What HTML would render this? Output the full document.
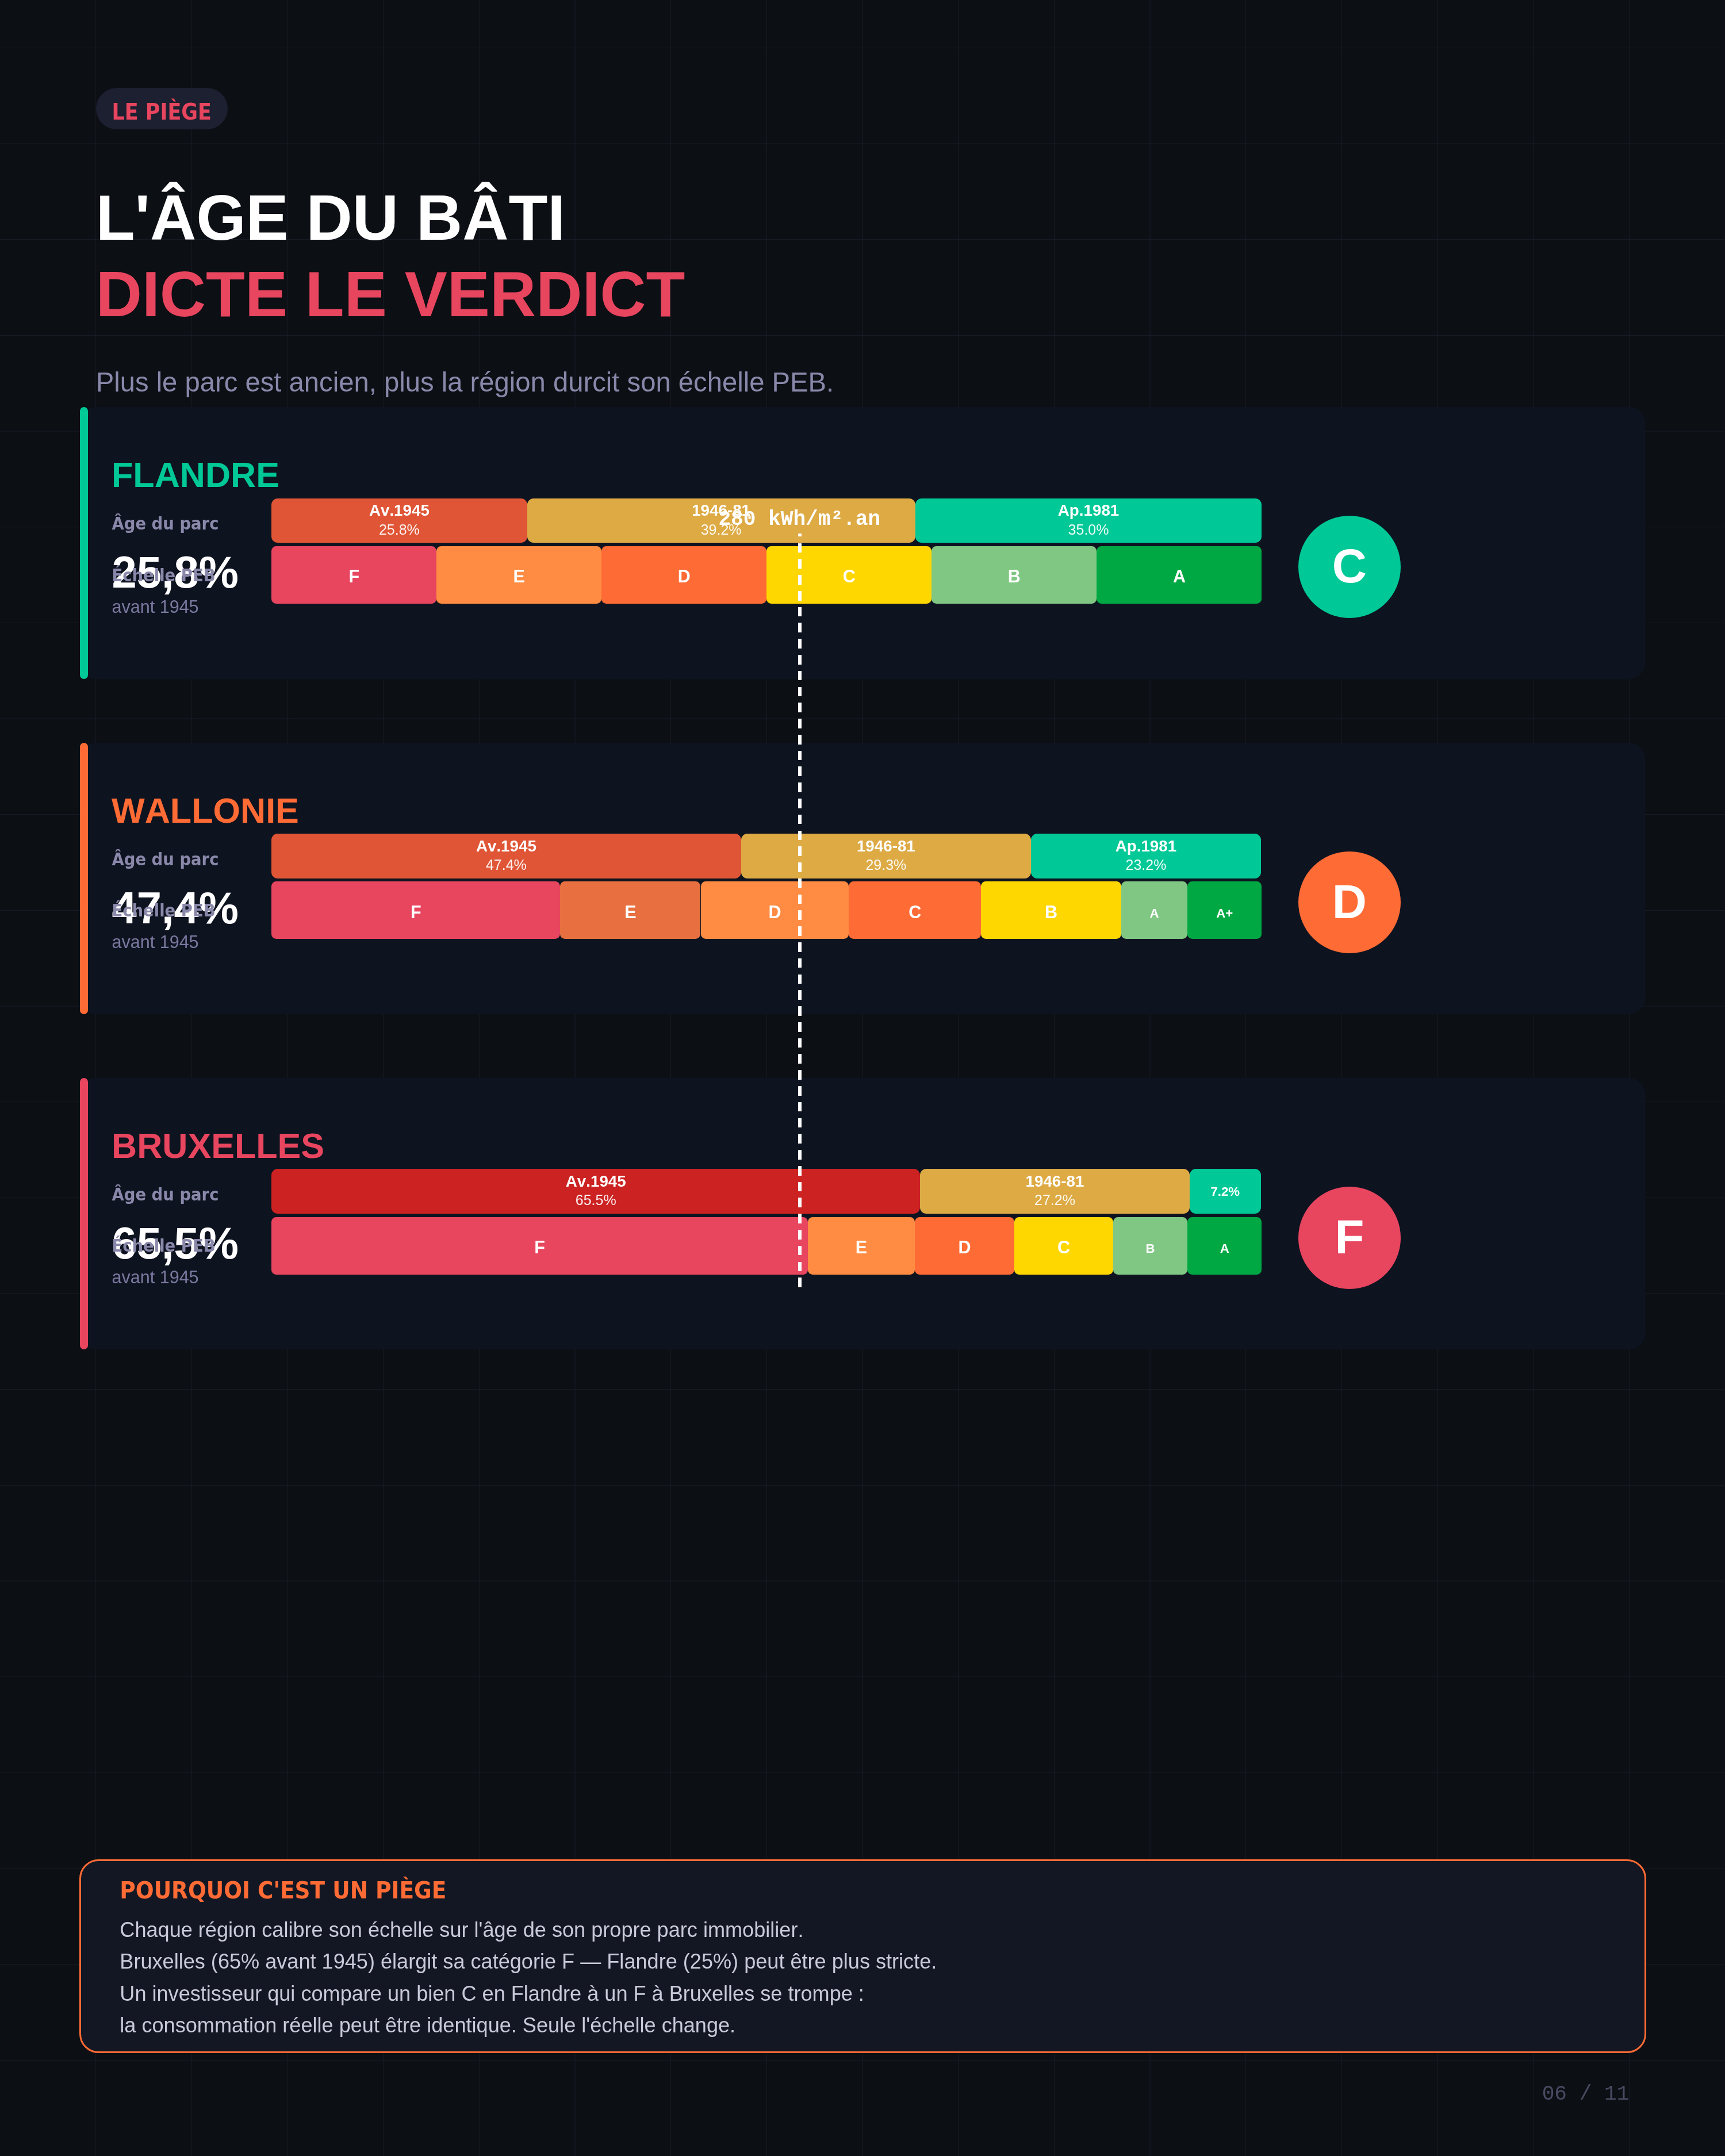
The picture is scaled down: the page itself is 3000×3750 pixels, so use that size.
<!DOCTYPE html>
<html lang="fr"><head><meta charset="utf-8"><title>L'âge du bâti dicte le verdict</title>
<style>
html,body{margin:0;padding:0;}
body{width:3000px;height:3750px;overflow:hidden;background:#0c0f14;position:relative;}
#p{position:absolute;left:0;top:0;width:1080px;height:1350px;zoom:2.777778;will-change:transform;}
.t{position:absolute;white-space:nowrap;font-kerning:none;}
.r{position:absolute;}
</style></head><body>
<svg id="g" width="3000" height="3750" viewBox="0 0 3000 3750" style="position:absolute;left:0;top:0" stroke="#191d28" stroke-width="1"><line x1="166.67" y1="0" x2="166.67" y2="3750"/><line x1="333.33" y1="0" x2="333.33" y2="3750"/><line x1="500.00" y1="0" x2="500.00" y2="3750"/><line x1="666.67" y1="0" x2="666.67" y2="3750"/><line x1="833.33" y1="0" x2="833.33" y2="3750"/><line x1="1000.00" y1="0" x2="1000.00" y2="3750"/><line x1="1166.67" y1="0" x2="1166.67" y2="3750"/><line x1="1333.33" y1="0" x2="1333.33" y2="3750"/><line x1="1500.00" y1="0" x2="1500.00" y2="3750"/><line x1="1666.67" y1="0" x2="1666.67" y2="3750"/><line x1="1833.33" y1="0" x2="1833.33" y2="3750"/><line x1="2000.00" y1="0" x2="2000.00" y2="3750"/><line x1="2166.67" y1="0" x2="2166.67" y2="3750"/><line x1="2333.33" y1="0" x2="2333.33" y2="3750"/><line x1="2500.00" y1="0" x2="2500.00" y2="3750"/><line x1="2666.67" y1="0" x2="2666.67" y2="3750"/><line x1="2833.33" y1="0" x2="2833.33" y2="3750"/><line x1="0" y1="83.33" x2="3000" y2="83.33"/><line x1="0" y1="250.00" x2="3000" y2="250.00"/><line x1="0" y1="416.67" x2="3000" y2="416.67"/><line x1="0" y1="583.33" x2="3000" y2="583.33"/><line x1="0" y1="750.00" x2="3000" y2="750.00"/><line x1="0" y1="916.67" x2="3000" y2="916.67"/><line x1="0" y1="1083.33" x2="3000" y2="1083.33"/><line x1="0" y1="1250.00" x2="3000" y2="1250.00"/><line x1="0" y1="1416.67" x2="3000" y2="1416.67"/><line x1="0" y1="1583.33" x2="3000" y2="1583.33"/><line x1="0" y1="1750.00" x2="3000" y2="1750.00"/><line x1="0" y1="1916.67" x2="3000" y2="1916.67"/><line x1="0" y1="2083.33" x2="3000" y2="2083.33"/><line x1="0" y1="2250.00" x2="3000" y2="2250.00"/><line x1="0" y1="2416.67" x2="3000" y2="2416.67"/><line x1="0" y1="2583.33" x2="3000" y2="2583.33"/><line x1="0" y1="2750.00" x2="3000" y2="2750.00"/><line x1="0" y1="2916.67" x2="3000" y2="2916.67"/><line x1="0" y1="3083.33" x2="3000" y2="3083.33"/><line x1="0" y1="3250.00" x2="3000" y2="3250.00"/><line x1="0" y1="3416.67" x2="3000" y2="3416.67"/><line x1="0" y1="3583.33" x2="3000" y2="3583.33"/></svg>
<div id="p">
<div class="r" style="left:60.00px;top:55.00px;width:82.50px;height:26.00px;background:#1c2030;border-radius:13px;"></div>
<div class="t" style="left:70.00px;top:63.35px;font:700 14px/1 'DejaVu Sans Condensed', 'DejaVu Sans', sans-serif;font-kerning:none;font-stretch:condensed;color:#e8455f;">LE PIÈGE</div>
<div class="t" style="left:60.00px;top:116.13px;font:700 40px/1 'Liberation Sans', Arial, sans-serif;font-kerning:none;color:#ffffff;">L'ÂGE DU BÂTI</div>
<div class="t" style="left:60.00px;top:164.13px;font:700 40px/1 'Liberation Sans', Arial, sans-serif;font-kerning:none;color:#e8455f;">DICTE LE VERDICT</div>
<div class="t" style="left:60.00px;top:230.76px;font:400 17px/1 'Liberation Sans', Arial, sans-serif;font-kerning:none;color:#8a88aa;">Plus le parc est ancien, plus la région durcit son échelle PEB.</div>
<div class="r" style="left:50.00px;top:255.00px;width:980.00px;height:170.00px;background:#0e1320;border-radius:10px;"></div>
<div class="r" style="left:50.00px;top:255.00px;width:5.00px;height:170.00px;background:#00c896;border-radius:2.5px;"></div>
<div class="t" style="left:69.85px;top:286.67px;font:700 22px/1 'Liberation Sans', Arial, sans-serif;font-kerning:none;color:#00c896;">FLANDRE</div>
<div class="t" style="left:70.00px;top:322.69px;font:700 11px/1 'DejaVu Sans Condensed', 'DejaVu Sans', sans-serif;font-kerning:none;font-stretch:condensed;color:#8a88aa;">Âge du parc</div>
<div class="t" style="left:70.00px;top:344.64px;font:700 28px/1 'Liberation Sans', Arial, sans-serif;font-kerning:none;color:#ffffff;">25,8%</div>
<div class="t" style="left:70.00px;top:374.29px;font:400 11px/1 'Liberation Sans', Arial, sans-serif;font-kerning:none;color:#7b79a0;">avant 1945</div>
<div class="r" style="left:170.00px;top:312.00px;width:159.96px;height:28.00px;background:#df5535;border-radius:4px;"></div>
<div class="t" style="left:149.98px;top:314.78px;font:700 10px/1 'Liberation Sans', Arial, sans-serif;font-kerning:none;color:#ffffff;width:200px;text-align:center;">Av.1945</div>
<div class="t" style="left:149.98px;top:327.08px;font:400 9px/1 'Liberation Sans', Arial, sans-serif;font-kerning:none;color:rgba(255,255,255,0.92);width:200px;text-align:center;">25.8%</div>
<div class="r" style="left:329.96px;top:312.00px;width:243.04px;height:28.00px;background:#ddaa44;border-radius:4px;"></div>
<div class="t" style="left:351.48px;top:314.78px;font:700 10px/1 'Liberation Sans', Arial, sans-serif;font-kerning:none;color:#ffffff;width:200px;text-align:center;">1946-81</div>
<div class="t" style="left:351.48px;top:327.08px;font:400 9px/1 'Liberation Sans', Arial, sans-serif;font-kerning:none;color:rgba(255,255,255,0.92);width:200px;text-align:center;">39.2%</div>
<div class="r" style="left:573.00px;top:312.00px;width:217.00px;height:28.00px;background:#00c896;border-radius:4px;"></div>
<div class="t" style="left:581.50px;top:314.78px;font:700 10px/1 'Liberation Sans', Arial, sans-serif;font-kerning:none;color:#ffffff;width:200px;text-align:center;">Ap.1981</div>
<div class="t" style="left:581.50px;top:327.08px;font:400 9px/1 'Liberation Sans', Arial, sans-serif;font-kerning:none;color:rgba(255,255,255,0.92);width:200px;text-align:center;">35.0%</div>
<div class="r" style="left:170.00px;top:342.00px;width:103.33px;height:36.00px;background:#e8455f;border-radius:3px;"></div>
<div class="t" style="left:121.66px;top:355.39px;font:700 11px/1 'Liberation Sans', Arial, sans-serif;font-kerning:none;color:#ffffff;width:200px;text-align:center;">F</div>
<div class="r" style="left:273.33px;top:342.00px;width:103.34px;height:36.00px;background:#ff8c42;border-radius:3px;"></div>
<div class="t" style="left:225.00px;top:355.39px;font:700 11px/1 'Liberation Sans', Arial, sans-serif;font-kerning:none;color:#ffffff;width:200px;text-align:center;">E</div>
<div class="r" style="left:376.67px;top:342.00px;width:103.33px;height:36.00px;background:#ff6b35;border-radius:3px;"></div>
<div class="t" style="left:328.34px;top:355.39px;font:700 11px/1 'Liberation Sans', Arial, sans-serif;font-kerning:none;color:#ffffff;width:200px;text-align:center;">D</div>
<div class="r" style="left:480.00px;top:342.00px;width:103.33px;height:36.00px;background:#ffd700;border-radius:3px;"></div>
<div class="t" style="left:431.66px;top:355.39px;font:700 11px/1 'Liberation Sans', Arial, sans-serif;font-kerning:none;color:#ffffff;width:200px;text-align:center;">C</div>
<div class="r" style="left:583.33px;top:342.00px;width:103.34px;height:36.00px;background:#80c783;border-radius:3px;"></div>
<div class="t" style="left:535.00px;top:355.39px;font:700 11px/1 'Liberation Sans', Arial, sans-serif;font-kerning:none;color:#ffffff;width:200px;text-align:center;">B</div>
<div class="r" style="left:686.67px;top:342.00px;width:103.33px;height:36.00px;background:#00a844;border-radius:3px;"></div>
<div class="t" style="left:638.34px;top:355.39px;font:700 11px/1 'Liberation Sans', Arial, sans-serif;font-kerning:none;color:#ffffff;width:200px;text-align:center;">A</div>
<div class="t" style="left:70.00px;top:354.84px;font:700 11px/1 'DejaVu Sans Condensed', 'DejaVu Sans', sans-serif;font-kerning:none;font-stretch:condensed;color:#8a88aa;">Échelle PEB</div>
<div class="r" style="left:812.90px;top:323.00px;width:64px;height:64px;border-radius:50%;background:#00c896"></div>
<div class="t" style="left:794.90px;top:339.60px;font:700 30px/1 'Liberation Sans', Arial, sans-serif;font-kerning:none;color:#ffffff;width:100px;text-align:center;">C</div>
<div class="r" style="left:50.00px;top:465.00px;width:980.00px;height:170.00px;background:#0e1320;border-radius:10px;"></div>
<div class="r" style="left:50.00px;top:465.00px;width:5.00px;height:170.00px;background:#ff6b35;border-radius:2.5px;"></div>
<div class="t" style="left:69.85px;top:496.67px;font:700 22px/1 'Liberation Sans', Arial, sans-serif;font-kerning:none;color:#ff6b35;">WALLONIE</div>
<div class="t" style="left:70.00px;top:532.69px;font:700 11px/1 'DejaVu Sans Condensed', 'DejaVu Sans', sans-serif;font-kerning:none;font-stretch:condensed;color:#8a88aa;">Âge du parc</div>
<div class="t" style="left:70.00px;top:554.64px;font:700 28px/1 'Liberation Sans', Arial, sans-serif;font-kerning:none;color:#ffffff;">47,4%</div>
<div class="t" style="left:70.00px;top:584.29px;font:400 11px/1 'Liberation Sans', Arial, sans-serif;font-kerning:none;color:#7b79a0;">avant 1945</div>
<div class="r" style="left:170.00px;top:522.00px;width:293.88px;height:28.00px;background:#df5535;border-radius:4px;"></div>
<div class="t" style="left:216.94px;top:524.78px;font:700 10px/1 'Liberation Sans', Arial, sans-serif;font-kerning:none;color:#ffffff;width:200px;text-align:center;">Av.1945</div>
<div class="t" style="left:216.94px;top:537.08px;font:400 9px/1 'Liberation Sans', Arial, sans-serif;font-kerning:none;color:rgba(255,255,255,0.92);width:200px;text-align:center;">47.4%</div>
<div class="r" style="left:463.88px;top:522.00px;width:181.66px;height:28.00px;background:#ddaa44;border-radius:4px;"></div>
<div class="t" style="left:454.71px;top:524.78px;font:700 10px/1 'Liberation Sans', Arial, sans-serif;font-kerning:none;color:#ffffff;width:200px;text-align:center;">1946-81</div>
<div class="t" style="left:454.71px;top:537.08px;font:400 9px/1 'Liberation Sans', Arial, sans-serif;font-kerning:none;color:rgba(255,255,255,0.92);width:200px;text-align:center;">29.3%</div>
<div class="r" style="left:645.54px;top:522.00px;width:143.84px;height:28.00px;background:#00c896;border-radius:4px;"></div>
<div class="t" style="left:617.46px;top:524.78px;font:700 10px/1 'Liberation Sans', Arial, sans-serif;font-kerning:none;color:#ffffff;width:200px;text-align:center;">Ap.1981</div>
<div class="t" style="left:617.46px;top:537.08px;font:400 9px/1 'Liberation Sans', Arial, sans-serif;font-kerning:none;color:rgba(255,255,255,0.92);width:200px;text-align:center;">23.2%</div>
<div class="r" style="left:170.00px;top:552.00px;width:180.75px;height:36.00px;background:#e8455f;border-radius:3px;"></div>
<div class="t" style="left:160.38px;top:565.39px;font:700 11px/1 'Liberation Sans', Arial, sans-serif;font-kerning:none;color:#ffffff;width:200px;text-align:center;">F</div>
<div class="r" style="left:350.75px;top:552.00px;width:87.91px;height:36.00px;background:#e87040;border-radius:3px;"></div>
<div class="t" style="left:294.71px;top:565.39px;font:700 11px/1 'Liberation Sans', Arial, sans-serif;font-kerning:none;color:#ffffff;width:200px;text-align:center;">E</div>
<div class="r" style="left:438.66px;top:552.00px;width:92.84px;height:36.00px;background:#ff8c42;border-radius:3px;"></div>
<div class="t" style="left:385.08px;top:565.39px;font:700 11px/1 'Liberation Sans', Arial, sans-serif;font-kerning:none;color:#ffffff;width:200px;text-align:center;">D</div>
<div class="r" style="left:531.50px;top:552.00px;width:82.80px;height:36.00px;background:#ff6b35;border-radius:3px;"></div>
<div class="t" style="left:472.90px;top:565.39px;font:700 11px/1 'Liberation Sans', Arial, sans-serif;font-kerning:none;color:#ffffff;width:200px;text-align:center;">C</div>
<div class="r" style="left:614.30px;top:552.00px;width:87.66px;height:36.00px;background:#ffd700;border-radius:3px;"></div>
<div class="t" style="left:558.13px;top:565.39px;font:700 11px/1 'Liberation Sans', Arial, sans-serif;font-kerning:none;color:#ffffff;width:200px;text-align:center;">B</div>
<div class="r" style="left:701.96px;top:552.00px;width:41.54px;height:36.00px;background:#80c783;border-radius:3px;"></div>
<div class="t" style="left:622.73px;top:567.93px;font:700 8px/1 'Liberation Sans', Arial, sans-serif;font-kerning:none;color:#ffffff;width:200px;text-align:center;">A</div>
<div class="r" style="left:743.50px;top:552.00px;width:46.50px;height:36.00px;background:#00a844;border-radius:3px;"></div>
<div class="t" style="left:666.75px;top:567.93px;font:700 8px/1 'Liberation Sans', Arial, sans-serif;font-kerning:none;color:#ffffff;width:200px;text-align:center;">A+</div>
<div class="t" style="left:70.00px;top:564.84px;font:700 11px/1 'DejaVu Sans Condensed', 'DejaVu Sans', sans-serif;font-kerning:none;font-stretch:condensed;color:#8a88aa;">Échelle PEB</div>
<div class="r" style="left:812.90px;top:533.00px;width:64px;height:64px;border-radius:50%;background:#ff6b35"></div>
<div class="t" style="left:794.90px;top:549.60px;font:700 30px/1 'Liberation Sans', Arial, sans-serif;font-kerning:none;color:#ffffff;width:100px;text-align:center;">D</div>
<div class="r" style="left:50.00px;top:675.00px;width:980.00px;height:170.00px;background:#0e1320;border-radius:10px;"></div>
<div class="r" style="left:50.00px;top:675.00px;width:5.00px;height:170.00px;background:#e8455f;border-radius:2.5px;"></div>
<div class="t" style="left:69.85px;top:706.67px;font:700 22px/1 'Liberation Sans', Arial, sans-serif;font-kerning:none;color:#e8455f;">BRUXELLES</div>
<div class="t" style="left:70.00px;top:742.69px;font:700 11px/1 'DejaVu Sans Condensed', 'DejaVu Sans', sans-serif;font-kerning:none;font-stretch:condensed;color:#8a88aa;">Âge du parc</div>
<div class="t" style="left:70.00px;top:764.64px;font:700 28px/1 'Liberation Sans', Arial, sans-serif;font-kerning:none;color:#ffffff;">65,5%</div>
<div class="t" style="left:70.00px;top:794.29px;font:400 11px/1 'Liberation Sans', Arial, sans-serif;font-kerning:none;color:#7b79a0;">avant 1945</div>
<div class="r" style="left:170.00px;top:732.00px;width:406.10px;height:28.00px;background:#cc2222;border-radius:4px;"></div>
<div class="t" style="left:273.05px;top:734.78px;font:700 10px/1 'Liberation Sans', Arial, sans-serif;font-kerning:none;color:#ffffff;width:200px;text-align:center;">Av.1945</div>
<div class="t" style="left:273.05px;top:747.08px;font:400 9px/1 'Liberation Sans', Arial, sans-serif;font-kerning:none;color:rgba(255,255,255,0.92);width:200px;text-align:center;">65.5%</div>
<div class="r" style="left:576.10px;top:732.00px;width:168.64px;height:28.00px;background:#ddaa44;border-radius:4px;"></div>
<div class="t" style="left:560.42px;top:734.78px;font:700 10px/1 'Liberation Sans', Arial, sans-serif;font-kerning:none;color:#ffffff;width:200px;text-align:center;">1946-81</div>
<div class="t" style="left:560.42px;top:747.08px;font:400 9px/1 'Liberation Sans', Arial, sans-serif;font-kerning:none;color:rgba(255,255,255,0.92);width:200px;text-align:center;">27.2%</div>
<div class="r" style="left:744.74px;top:732.00px;width:44.64px;height:28.00px;background:#00c896;border-radius:4px;"></div>
<div class="t" style="left:667.06px;top:742.43px;font:700 8px/1 'Liberation Sans', Arial, sans-serif;font-kerning:none;color:#ffffff;width:200px;text-align:center;">7.2%</div>
<div class="r" style="left:170.00px;top:762.00px;width:335.70px;height:36.00px;background:#e8455f;border-radius:3px;"></div>
<div class="t" style="left:237.85px;top:775.39px;font:700 11px/1 'Liberation Sans', Arial, sans-serif;font-kerning:none;color:#ffffff;width:200px;text-align:center;">F</div>
<div class="r" style="left:505.70px;top:762.00px;width:67.20px;height:36.00px;background:#ff8c42;border-radius:3px;"></div>
<div class="t" style="left:439.30px;top:775.39px;font:700 11px/1 'Liberation Sans', Arial, sans-serif;font-kerning:none;color:#ffffff;width:200px;text-align:center;">E</div>
<div class="r" style="left:572.90px;top:762.00px;width:62.10px;height:36.00px;background:#ff6b35;border-radius:3px;"></div>
<div class="t" style="left:503.95px;top:775.39px;font:700 11px/1 'Liberation Sans', Arial, sans-serif;font-kerning:none;color:#ffffff;width:200px;text-align:center;">D</div>
<div class="r" style="left:635.00px;top:762.00px;width:62.00px;height:36.00px;background:#ffd700;border-radius:3px;"></div>
<div class="t" style="left:566.00px;top:775.39px;font:700 11px/1 'Liberation Sans', Arial, sans-serif;font-kerning:none;color:#ffffff;width:200px;text-align:center;">C</div>
<div class="r" style="left:697.00px;top:762.00px;width:46.45px;height:36.00px;background:#80c783;border-radius:3px;"></div>
<div class="t" style="left:620.23px;top:777.93px;font:700 8px/1 'Liberation Sans', Arial, sans-serif;font-kerning:none;color:#ffffff;width:200px;text-align:center;">B</div>
<div class="r" style="left:743.45px;top:762.00px;width:46.55px;height:36.00px;background:#00a844;border-radius:3px;"></div>
<div class="t" style="left:666.73px;top:777.93px;font:700 8px/1 'Liberation Sans', Arial, sans-serif;font-kerning:none;color:#ffffff;width:200px;text-align:center;">A</div>
<div class="t" style="left:70.00px;top:774.84px;font:700 11px/1 'DejaVu Sans Condensed', 'DejaVu Sans', sans-serif;font-kerning:none;font-stretch:condensed;color:#8a88aa;">Échelle PEB</div>
<div class="r" style="left:812.90px;top:743.00px;width:64px;height:64px;border-radius:50%;background:#e8455f"></div>
<div class="t" style="left:794.90px;top:759.60px;font:700 30px/1 'Liberation Sans', Arial, sans-serif;font-kerning:none;color:#ffffff;width:100px;text-align:center;">F</div>
<div class="r" style="left:499.75px;top:334px;width:2.2px;height:472px;background:repeating-linear-gradient(to top,#fff 0 6px,transparent 6px 10px)"></div>
<div class="t" style="left:350.50px;top:318.84px;font:700 13px/1 'Liberation Mono', 'DejaVu Sans Mono', monospace;font-kerning:none;color:#ffffff;width:300px;text-align:center;">280 kWh/m².an</div>
<div class="r" style="left:49.5px;top:1164.4px;width:981px;height:121.2px;box-sizing:border-box;border:1.08px solid #ff6b35;border-radius:12px;background:#131723"></div>
<div class="t" style="left:75.00px;top:1176.16px;font:700 15px/1 'DejaVu Sans Condensed', 'DejaVu Sans', sans-serif;font-kerning:none;font-stretch:condensed;color:#ff6b35;">POURQUOI C'EST UN PIÈGE</div>
<div class="t" style="left:75.00px;top:1202.09px;font:400 13px/1 'Liberation Sans', Arial, sans-serif;font-kerning:none;color:#c9c9d9;">Chaque région calibre son échelle sur l'âge de son propre parc immobilier.</div>
<div class="t" style="left:75.00px;top:1221.99px;font:400 13px/1 'Liberation Sans', Arial, sans-serif;font-kerning:none;color:#c9c9d9;">Bruxelles (65% avant 1945) élargit sa catégorie F — Flandre (25%) peut être plus stricte.</div>
<div class="t" style="left:75.00px;top:1241.94px;font:400 13px/1 'Liberation Sans', Arial, sans-serif;font-kerning:none;color:#c9c9d9;">Un investisseur qui compare un bien C en Flandre à un F à Bruxelles se trompe :</div>
<div class="t" style="left:75.00px;top:1261.84px;font:400 13px/1 'Liberation Sans', Arial, sans-serif;font-kerning:none;color:#c9c9d9;">la consommation réelle peut être identique. Seule l'échelle change.</div>
<div class="t" style="left:820.00px;top:1305.04px;font:400 13px/1 'Liberation Mono', 'DejaVu Sans Mono', monospace;font-kerning:none;color:#4a4a62;width:200px;text-align:right;">06 / 11</div>
</div>
<script>(function(){var w=window.innerWidth||3000;if(Math.abs(w-3000)>2){var s=w/1080;document.getElementById('p').style.zoom=s;var g=document.getElementById('g');g.setAttribute('width',w);g.setAttribute('height',w*1.25);document.body.style.width=w+'px';document.body.style.height=(w*1.25)+'px';}})();</script>
</body></html>
